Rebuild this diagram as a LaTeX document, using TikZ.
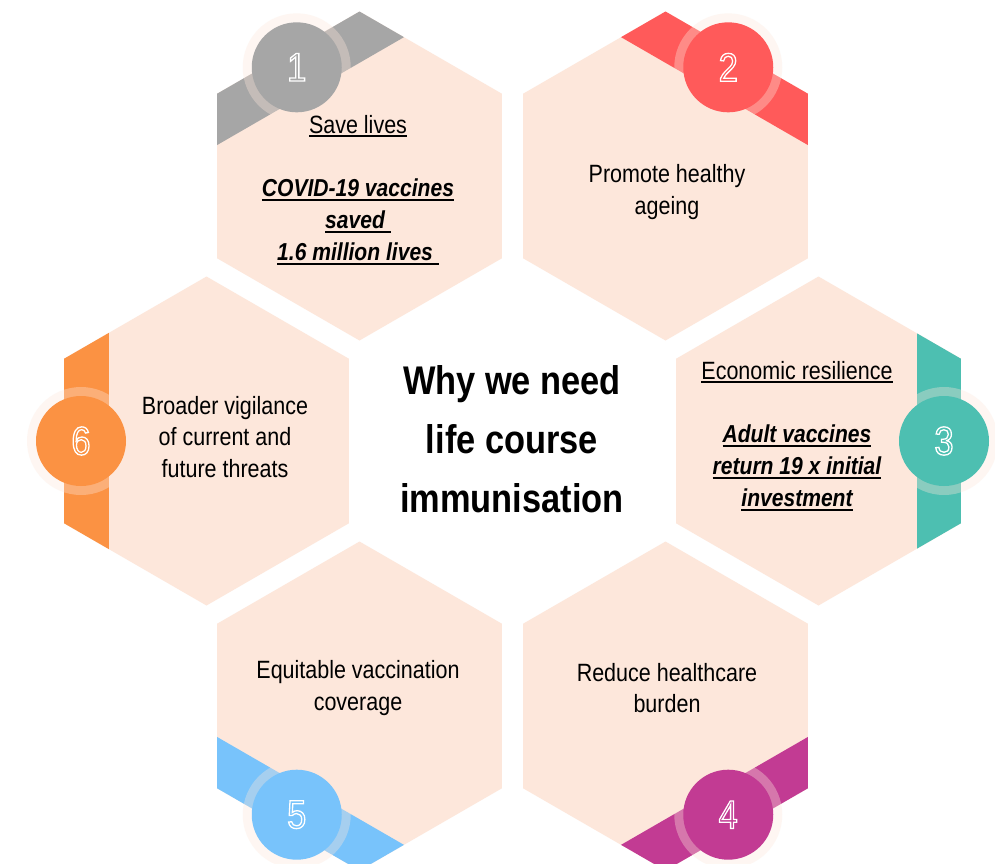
\documentclass[tikz,border=0pt]{standalone}
\usepackage{fontspec}
\setmainfont{Liberation Sans}[FakeStretch=0.86]
\usetikzlibrary{calc}
\definecolor{hexfill}{HTML}{FDE7DB}
\definecolor{cgray}{HTML}{A6A6A6}
\definecolor{cred}{HTML}{FF5A5A}
\definecolor{cteal}{HTML}{4DBFB1}
\definecolor{corange}{HTML}{FB9243}
\definecolor{cblue}{HTML}{78C3FB}
\definecolor{cmag}{HTML}{C23B93}
\newcommand\myul[1]{\setbox0=\hbox{#1}\rlap{\rule[-4pt]{\wd0}{2pt}}\box0}
\newcommand\outlined[1]{\special{pdf:literal direct 1 Tr 1.3 w}#1\special{pdf:literal direct 0 Tr 0.4 w}}
\def\R{164.5}
\newcommand\hexpath[1]{($(#1)+(30:\R)$) -- ($(#1)+(90:\R)$) -- ($(#1)+(150:\R)$) -- ($(#1)+(210:\R)$) -- ($(#1)+(270:\R)$) -- ($(#1)+(330:\R)$) -- cycle}
\newcommand\hexcell[4]{% name, center, band angle, colour
  \coordinate (#1) at #2;
  \fill[hexfill] \hexpath{#1};
  \begin{scope}
    \clip \hexpath{#1};
    \fill[#4] ($(#1)+(#3:98)+(#3+90:220)$) -- ($(#1)+(#3:175)+(#3+90:220)$) -- ($(#1)+(#3:175)+(#3-90:220)$) -- ($(#1)+(#3:98)+(#3-90:220)$) -- cycle;
  \end{scope}
  \coordinate (#1c) at ($(#1)+(#3:125.5)$);
}
\newcommand\badge[3]{% hex name, colour, digit
  \fill[hexfill, fill opacity=0.35] (#1c) circle[radius=54pt];
  \fill[#2] (#1c) circle[radius=45pt];
  \node[digit] (#1d) at (#1c) {\outlined{#3}};
}
\tikzset{
  digit/.style={inner sep=0pt, text=white, font=\fontsize{40}{40}\selectfont},
  body/.style={inner sep=0pt, align=center, font=\fontsize{25}{31.5}\selectfont},
  boldbody/.style={inner sep=0pt, align=center, font=\fontsize{24.5}{32}\selectfont\bfseries\itshape},
  title/.style={inner sep=0pt, align=center, font=\fontsize{40}{59}\selectfont\bfseries}
}
\begin{document}
\begin{tikzpicture}[x=1pt, y=-1pt]
\useasboundingbox (0,0) rectangle (995,863);
\fill[white] (0,0) rectangle (995,863);
\clip (0,0) rectangle (995,863);
\hexcell{h1}{(359.5,176)}{240}{cgray}
\hexcell{h2}{(665.5,176)}{300}{cred}
\hexcell{h3}{(818.5,441)}{0}{cteal}
\hexcell{h4}{(665.5,706)}{60}{cmag}
\hexcell{h5}{(359.5,706)}{120}{cblue}
\hexcell{h6}{(206.5,441)}{180}{corange}
\badge{h1}{cgray}{1}
\badge{h2}{cred}{2}
\badge{h3}{cteal}{3}
\badge{h4}{cmag}{4}
\badge{h5}{cblue}{5}
\badge{h6}{corange}{6}
\node[title] (ttl) at (512,439) {Why we need\\life course\\immunisation};
\node[body] (t1a) at (358,126) {\myul{Save lives}};
\node[boldbody] (t1b) at (358,222) {\myul{COVID-19 vaccines}\\\myul{saved }\\\myul{1.6 million lives }};
\node[body] (t2) at (667,192) {Promote healthy\\ageing};
\node[body] (t3a) at (797,372) {\myul{Economic resilience}};
\node[boldbody] (t3b) at (797,468) {\myul{Adult vaccines}\\\myul{return 19 x initial}\\\myul{investment}};
\node[body] (t4) at (667,688) {Reduce healthcare\\burden};
\node[body] (t5) at (358,688) {Equitable vaccination\\coverage};
\node[body] (t6) at (225,437) {Broader vigilance\\of current and\\future threats};
\end{tikzpicture}
\end{document}
